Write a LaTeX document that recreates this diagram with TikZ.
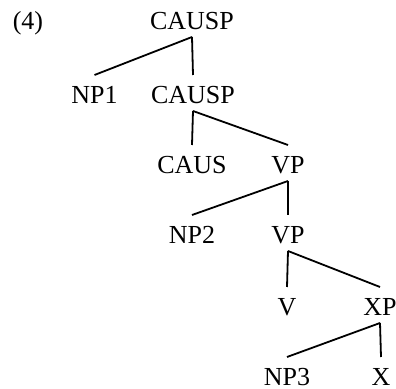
\documentclass[tikz,border=0pt]{standalone}
\usepackage{fontspec}
\setmainfont{Liberation Serif}

\begin{document}
\begin{tikzpicture}[x=0.5pt,y=-0.5pt,
    cat/.style={font=\fontsize{13}{15}\selectfont, inner sep=0pt, text height=8.6pt, text depth=0pt},
    branch/.style={line width=0.9pt}]
    \useasboundingbox (0,0) rectangle (396,389);
    \node[cat] (num) at (28,21) {(4)};
    \node[cat] (causpA) at (192,21) {CAUSP};
    \node[cat] (npA) at (94.5,95) {NP1};
    \node[cat] (causpB) at (193,95) {CAUSP};
    \node[cat] (caus) at (192,165) {CAUS};
    \node[cat] (vpA) at (288,165) {VP};
    \node[cat] (npB) at (192,235) {NP2};
    \node[cat] (vpB) at (288,235) {VP};
    \node[cat] (v) at (287,307) {V};
    \node[cat] (xp) at (380,307) {XP};
    \node[cat] (npC) at (287,377) {NP3};
    \node[cat] (x) at (381,377) {X};
    \foreach \p/\c in {causpA/npA, causpA/causpB, causpB/caus, causpB/vpA,
                       vpA/npB, vpA/vpB, vpB/v, vpB/xp, xp/npC, xp/x}
        \draw[branch] ([yshift=-3.5pt]\p.south) -- ([yshift=5.5pt]\c.north);
\end{tikzpicture}
\end{document}
